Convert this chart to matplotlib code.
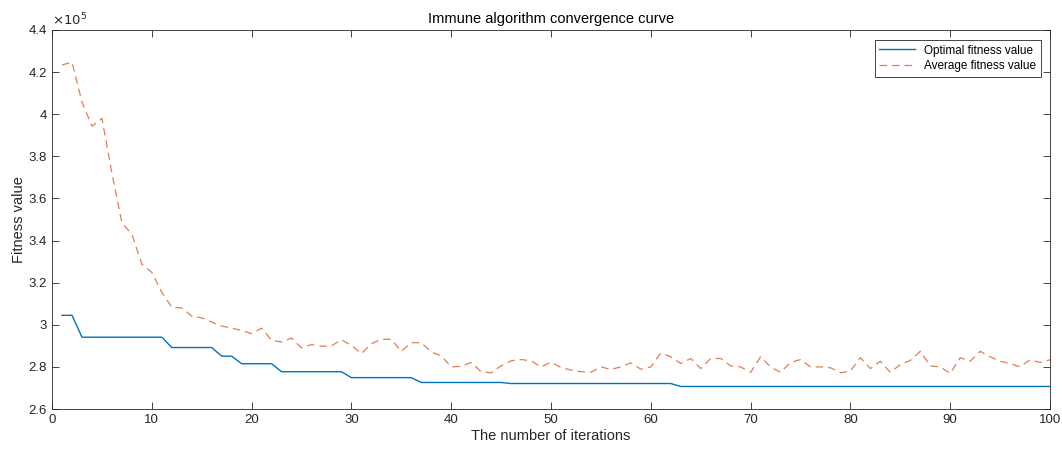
import numpy as np
from matplotlib import pyplot as plt
from matplotlib.ticker import FuncFormatter

plt.rcParams['font.family'] = ['Liberation Sans', 'DejaVu Sans']

iterations = list(range(1, 101))

# optimal fitness value (x1e5)
optimal = ([3.045] * 2 + [2.941] * 9 + [2.892] * 5 + [2.851] * 2 + [2.815] * 4
           + [2.777] * 7 + [2.749] * 7 + [2.726] * 9 + [2.721] * 17 + [2.707] * 38)

# average fitness value (x1e5)
average = [
    4.234, 4.247, 4.058, 3.943, 3.980, 3.720, 3.484, 3.430, 3.288, 3.249,
    3.154, 3.083, 3.080, 3.041, 3.033, 3.013, 2.994, 2.984, 2.973, 2.958,
    2.984, 2.926, 2.918, 2.937, 2.890, 2.906, 2.898, 2.900, 2.929, 2.902,
    2.863, 2.910, 2.931, 2.931, 2.874, 2.915, 2.915, 2.871, 2.852, 2.800,
    2.803, 2.821, 2.777, 2.772, 2.805, 2.829, 2.835, 2.829, 2.800, 2.822,
    2.797, 2.785, 2.777, 2.775, 2.800, 2.788, 2.800, 2.819, 2.789, 2.800,
    2.866, 2.848, 2.816, 2.840, 2.792, 2.840, 2.840, 2.805, 2.800, 2.774,
    2.848, 2.800, 2.774, 2.821, 2.835, 2.800, 2.800, 2.796, 2.772, 2.780,
    2.844, 2.792, 2.827, 2.774, 2.811, 2.831, 2.874, 2.805, 2.800, 2.769,
    2.844, 2.827, 2.874, 2.848, 2.827, 2.816, 2.800, 2.834, 2.821, 2.834,
]

opt = np.array(optimal) * 1e5
avg = np.array(average) * 1e5

fig = plt.figure(figsize=(10.62, 4.51), dpi=100)
ax = fig.add_axes([0.049, 0.0931, 0.9397, 0.8404])

ax.plot(iterations, opt, color='#0072BD', linewidth=1.0, label='Optimal fitness value')
ax.plot(iterations, avg, color='#D95319', linewidth=0.9, linestyle=(0, (6, 4)),
        alpha=0.75, label='Average fitness value')

ax.set_xlim(0, 100)
ax.set_ylim(2.6e5, 4.4e5)
ax.set_xticks(range(0, 101, 10))
ax.set_yticks(np.arange(2.6e5, 4.41e5, 0.2e5))
ax.yaxis.set_major_formatter(FuncFormatter(lambda v, p: f'{v / 1e5:g}'))
ax.text(0.0, 1.005, r'$\times10^{5}$', transform=ax.transAxes, fontsize=9.5,
        color='#262626', ha='left', va='bottom')

ax.tick_params(direction='in', top=True, right=True, length=5, width=0.6,
               labelsize=9.5, colors='#262626')
for s in ax.spines.values():
    s.set_linewidth(0.6)
    s.set_color('#262626')

ax.set_title('Immune algorithm convergence curve', fontsize=10.5, color='#000000', pad=5)
ax.set_xlabel('The number of iterations', fontsize=10.5, color='#262626', labelpad=2)
ax.set_ylabel('Fitness value', fontsize=10.5, color='#262626', labelpad=2)

leg = ax.legend(loc='upper right', fontsize=8.5, fancybox=False, edgecolor='#262626',
                framealpha=1, borderpad=0.4, handlelength=3, labelspacing=0.3,
                borderaxespad=0, bbox_to_anchor=(0.991, 0.974))
leg.get_frame().set_linewidth(0.6)

fig.savefig('out.png', dpi=100)
